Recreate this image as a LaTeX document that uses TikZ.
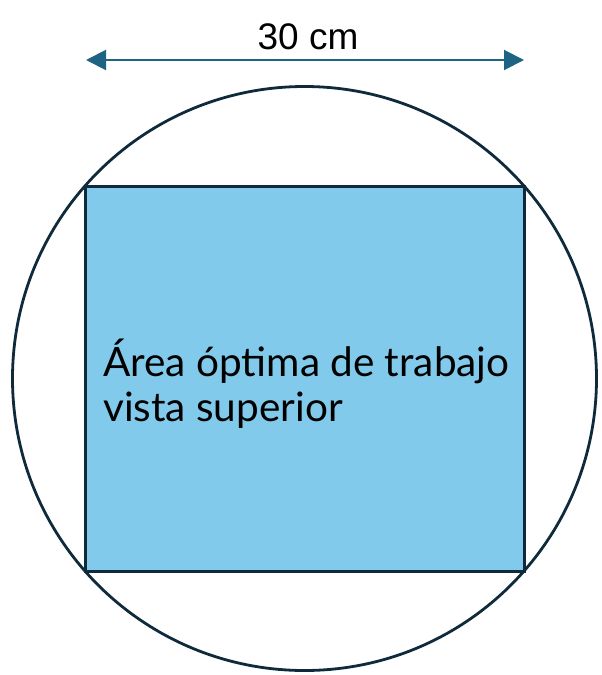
\documentclass[tikz,border=0pt]{standalone}
\usepackage{fontspec}
\setmainfont{Liberation Sans}
\newfontfamily\innerfont{Lato}
\usetikzlibrary{arrows.meta}
\definecolor{outline}{HTML}{0F2A3A}
\definecolor{areafill}{HTML}{82CAEB}
\definecolor{dimblue}{HTML}{1F6384}
\tikzset{
  areabox/.style={draw=outline, line width=3pt, fill=areafill},
  rim/.style={draw=outline, line width=2.8pt},
  dimline/.style={draw=dimblue, line width=2pt, {Triangle[length=20pt,width=20pt]}-{Triangle[length=20pt,width=20pt]}},
}
\begin{document}
\begin{tikzpicture}[x=1pt,y=-1pt]
\useasboundingbox (0,0) rectangle (602,675);
\node[circle, rim, minimum size=584pt, inner sep=0pt] (c) at (304.5,378.5) {};
\path[areabox] (85,186) rectangle (524,571);
\coordinate (rtl) at (85,186);
\node[anchor=base west, inner sep=0pt, font=\innerfont\fontsize{40.5}{45}\selectfont, align=left] (t) at (103,421) {Área óptima de trabajo\\vista superior};
\coordinate (al) at (86,60);
\coordinate (ar) at (524,60);
\draw[dimline] (al) -- (ar);
\node[anchor=base, inner sep=0pt, font=\fontsize{37}{40}\selectfont] (lbl) at (308,49) {30 cm};
\end{tikzpicture}
\end{document}
